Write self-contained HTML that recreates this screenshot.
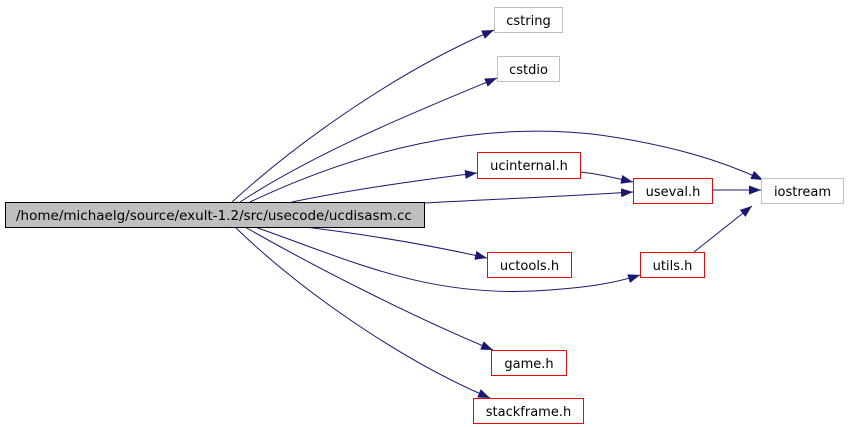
<!DOCTYPE html>
<html><head><meta charset="utf-8"><style>
body{margin:0;background:#fff}
svg{display:block}
text{font-family:"DejaVu Sans","Liberation Sans",sans-serif;font-size:13px;fill:#000}
</style></head><body>
<svg width="848" height="427" viewBox="0 0 848 427" xmlns="http://www.w3.org/2000/svg">
<defs><marker id="a" markerWidth="12" markerHeight="9" refX="12" refY="4.5" orient="auto" markerUnits="userSpaceOnUse"><path d="M0,0L12,4.5L0,9z" fill="#191970"/></marker></defs>
<g fill="none" stroke="#191970" stroke-width="1" marker-end="url(#a)">
<path d="M232,202C300,140 400,70 494,30"/>
<path d="M240,202C320,150 420,110 497,78"/>
<path d="M250,202C360,150 480,120 600,135C670,145 720,160 763,180"/>
<path d="M292,202C350,190 420,180 477,173"/>
<path d="M580,172C600,174 615,178 633,182"/>
<path d="M424,203C500,199 570,196 633,192"/>
<path d="M712,190L761,190"/>
<path d="M305,227C370,235 430,245 487,258"/>
<path d="M255,227C350,260 430,300 550,290C590,287 615,283 640,275"/>
<path d="M694,252L752,206"/>
<path d="M245,227C320,270 420,320 493,350"/>
<path d="M235,227C300,290 400,360 490,398"/>
</g>
<rect x="5.5" y="202.5" width="419" height="25" fill="#bfbfbf" stroke="#000"/>
<text x="16" y="220" style="font-size:13.5px">/home/michaelg/source/exult-1.2/src/usecode/ucdisasm.cc</text>
<g fill="#fff">
<rect x="494.5" y="7.5" width="68" height="25" stroke="#bfbfbf"/>
<rect x="497.5" y="56.5" width="62" height="25" stroke="#bfbfbf"/>
<rect x="761.5" y="178.5" width="82" height="25" stroke="#bfbfbf"/>
<rect x="477.5" y="152.5" width="103" height="26" stroke="#f00"/>
<rect x="633.5" y="178.5" width="79" height="25" stroke="#f00"/>
<rect x="487.5" y="252.5" width="84" height="25" stroke="#f00"/>
<rect x="640.5" y="252.5" width="64" height="25" stroke="#f00"/>
<rect x="491.5" y="350.5" width="75" height="25" stroke="#f00"/>
<rect x="473.5" y="398.5" width="110" height="25" stroke="#f00"/>
</g>
<g text-anchor="middle">
<text x="528.5" y="25">cstring</text>
<text x="528.5" y="74">cstdio</text>
<text x="802.5" y="196">iostream</text>
<text x="529" y="170">ucinternal.h</text>
<text x="673" y="196">useval.h</text>
<text x="529.5" y="270">uctools.h</text>
<text x="672.5" y="270">utils.h</text>
<text x="529" y="368">game.h</text>
<text x="528.5" y="416">stackframe.h</text>
</g>
</svg>
</body></html>
